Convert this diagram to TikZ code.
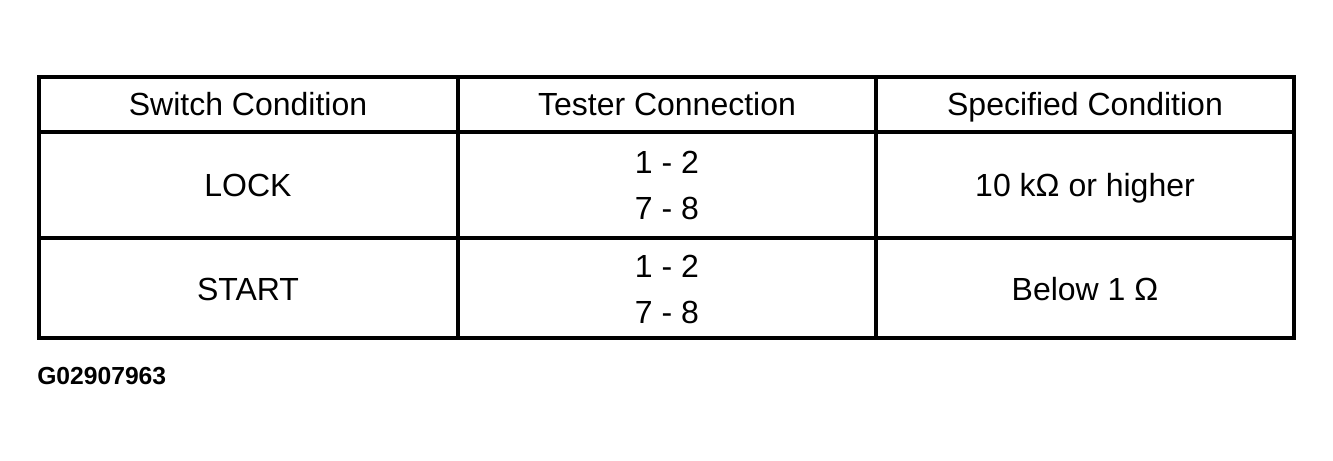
\documentclass[tikz,border=0pt]{standalone}
\usepackage{fontspec}
\setmainfont{Liberation Sans}

\begin{document}
\begin{tikzpicture}[x=0.75pt,y=-0.75pt]
\tikzset{cell/.style={align=center,inner sep=0,anchor=base,font=\fontsize{24}{34.5}\selectfont}}
\tikzset{pair/.style={cell,anchor=center}}
\tikzset{rule/.style={line width=2.4pt}}
\useasboundingbox (0,0) rectangle (1333,460);
% grid
\draw[rule] (39,77) rectangle (1294,338);
\draw[rule] (458,77) -- (458,338);
\draw[rule] (876,77) -- (876,338);
\draw[rule] (39,132) -- (1294,132);
\draw[rule] (39,238) -- (1294,238);
% header
\node[cell] (hswitch) at (248,115) {Switch Condition};
\node[cell] (htester) at (667,115) {Tester Connection};
\node[cell] (hspec) at (1085,115) {Specified Condition};
% rows
\node[cell] (lock) at (248,196) {LOCK};
\node[pair] (lockcon) at (667,185) {1 - 2\\7 - 8};
\node[cell] (lockspec) at (1085,196) {10 kΩ or higher};
\node[cell] (start) at (248,300) {START};
\node[pair] (startcon) at (667,289) {1 - 2\\7 - 8};
\node[cell] (startspec) at (1085,300) {Below 1 Ω};
\node[inner sep=0,anchor=base west,font=\bfseries\fontsize{18.5}{20}\selectfont] (code) at (37,384) {G02907963};
\end{tikzpicture}
\end{document}
